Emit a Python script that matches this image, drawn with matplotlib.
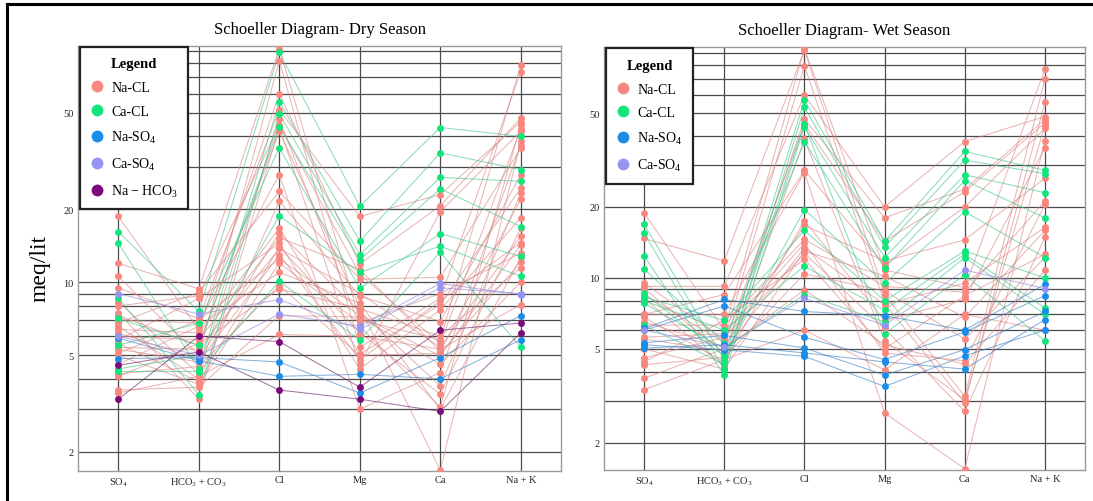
import numpy as np
import matplotlib
matplotlib.use('Agg')
from matplotlib import pyplot as plt
from matplotlib.lines import Line2D

plt.rcParams['font.family'] = ['Liberation Serif', 'DejaVu Serif']
plt.rcParams['mathtext.fontset'] = 'custom'
plt.rcParams['mathtext.rm'] = 'Liberation Serif'
plt.rcParams['mathtext.it'] = 'Liberation Serif:italic'
plt.rcParams['mathtext.bf'] = 'Liberation Serif:bold'

ions = ['SO$_4$', 'HCO$_3$ + CO$_3$', 'Cl', 'Mg', 'Ca', 'Na + K']
y_ticks = [2, 5, 10, 20, 50]
grid_levels = [2, 3, 4, 5, 6, 7, 8, 9, 10, 20, 30, 40, 50, 60, 70, 80, 90]

# each row is one sample: SO4, HCO3+CO3, Cl, Mg, Ca, Na+K (meq/lit)
dry_na_cl = [
    [18.7, 6.4, 60, 11.9, 20.7, 47.6],
    [12.0, 9.4, 92, 7.0, 5.8, 78.9],
    [10.6, 5.0, 82, 5.4, 8.6, 74],
    [9.5, 7.1, 51.5, 18.7, 23, 46],
    [8.3, 4.2, 47, 6.6, 3.06, 44.5],
    [8.0, 8.8, 44.7, 10.8, 5.6, 43],
    [7.5, 3.3, 43.5, 4.6, 19.6, 42],
    [7.3, 5.5, 42, 7.9, 1.68, 38.1],
    [7.0, 6.8, 27.8, 3.0, 4.25, 37],
    [6.8, 9.1, 23.7, 10.3, 10.5, 35.8],
    [6.6, 4.0, 21.6, 8.8, 6.9, 27.8],
    [6.4, 6.2, 16.7, 5.06, 8.1, 24.5],
    [6.2, 4.8, 16, 7.6, 3.74, 23.4],
    [6.0, 5.8, 15.3, 11.3, 5.2, 22],
    [5.8, 8.6, 14.5, 4.4, 7.7, 18.5],
    [5.6, 3.9, 14.0, 6.2, 3.46, 16.8],
    [5.4, 5.3, 13.8, 9.0, 5.4, 15.5],
    [5.3, 4.7, 13.0, 4.8, 8.4, 14.6],
    [5.1, 7.0, 12.5, 7.3, 4.98, 14.3],
    [5.0, 3.8, 12.0, 6.8, 9.0, 13.2],
    [4.6, 6.6, 11.0, 8.2, 3.0, 12.7],
    [4.2, 4.5, 9.7, 5.0, 5.1, 12.1],
    [4.1, 5.6, 9.4, 7.8, 6.0, 11.5],
    [3.6, 3.7, 7.3, 7.2, 4.6, 10],
    [3.5, 4.1, 6.1, 6.0, 5.3, 8.1],
]
dry_ca_cl = [
    [16.2, 7.6, 89, 20.6, 43.5, 40],
    [14.5, 4.4, 55.6, 14.8, 34.2, 29.2],
    [8.6, 3.45, 49.6, 13.0, 27.1, 26.1],
    [7.1, 5.5, 43.9, 12.4, 24.3, 17],
    [5.5, 6.8, 35.9, 9.45, 15.9, 12.8],
    [4.4, 5.0, 18.8, 11.0, 14.1, 10.6],
    [4.3, 4.29, 10.1, 5.8, 13.3, 5.4],
]
dry_na_so4 = [
    [4.85, 4.9, 4.7, 3.5, 4.9, 7.3],
    [5.9, 4.75, 4.1, 4.18, 4.0, 5.8],
]
dry_ca_so4 = [
    [9.0, 7.4, 8.5, 6.4, 9.5, 9.0],
    [6.0, 5.0, 7.4, 6.6, 9.9, 8.9],
]
dry_na_hco3 = [
    [3.3, 6.0, 5.7, 3.7, 6.35, 6.8],
    [4.55, 5.17, 3.6, 3.3, 2.94, 6.2],
]

wet_na_cl = [
    [18.9, 6.0, 94, 10.8, 9.1, 77],
    [14.7, 11.8, 92.6, 8.5, 3.14, 69.8],
    [9.5, 5.46, 79.6, 7.8, 2.94, 55.6],
    [9.2, 9.2, 59.8, 20, 37.9, 48.4],
    [9.0, 4.8, 47.2, 18, 23.8, 47],
    [8.5, 5.3, 45, 14.3, 23.2, 45.5],
    [8.2, 4.2, 38.8, 5.4, 3.04, 44.5],
    [7.0, 8.5, 28.6, 11.3, 20, 43.1],
    [7.0, 7.0, 28, 2.67, 1.55, 38.2],
    [6.8, 4.4, 17.5, 6.6, 8.1, 35.7],
    [6.5, 5.1, 16.7, 11.8, 14.5, 26.5],
    [6.3, 6.3, 14.6, 9.2, 8.7, 21.2],
    [5.6, 5.8, 14.0, 4.8, 4.45, 20.5],
    [5.5, 4.9, 13.4, 7.7, 9.5, 16.4],
    [5.0, 4.1, 13.0, 10.2, 6.8, 15.9],
    [4.57, 5.6, 12.7, 6.1, 2.71, 14.9],
    [4.4, 6.6, 12, 5.0, 8.4, 12.6],
    [4.28, 4.6, 10.4, 8.8, 5.5, 12.2],
    [3.75, 5.0, 8.9, 5.2, 4.3, 10.8],
    [3.35, 4.5, 6.0, 4.07, 7.0, 6.0],
]
wet_ca_cl = [
    [16.9, 4.5, 56.9, 14.3, 34.4, 28.6],
    [15.5, 4.07, 52.9, 13.5, 31.6, 27.7],
    [12.4, 3.87, 43.8, 12.2, 27.4, 23],
    [10.9, 5.3, 37.9, 11.0, 25.9, 18],
    [8.6, 4.65, 19.5, 9.5, 19.1, 12.2],
    [8.3, 6.6, 15.9, 8.0, 13.0, 10],
    [8.0, 6.0, 11.2, 7.3, 12.6, 7.45],
    [7.8, 5.0, 8.5, 6.5, 12.2, 7.0],
    [6.3, 4.3, 45.0, 5.8, 10.3, 5.4],
]
wet_na_so4 = [
    [6.1, 8.1, 7.2, 6.9, 6.0, 9.4],
    [6.0, 7.6, 5.6, 4.5, 5.9, 8.4],
    [5.3, 5.7, 5.04, 3.87, 4.96, 7.2],
    [5.04, 5.2, 4.8, 4.4, 4.1, 6.65],
    [5.2, 4.95, 4.65, 3.46, 4.67, 6.0],
]
wet_ca_so4 = [
    [6.0, 5.1, 8.2, 6.3, 10.8, 9.0],
]

type_names = ['Na-CL', 'Ca-CL', 'Na-SO$_4$', 'Ca-SO$_4$', 'Na $-$ HCO$_3$']
point_colors = ['#f7877f', '#12e57c', '#1b8ce8', '#9494f2', '#7d0a7d']
line_colors = ['#d98682', '#3fc58c', '#3a7fc4', '#8c88dc', '#6b1d6b']


def draw_panel(ax, groups, title, ylim, n_legend, legend_top):
    x = np.arange(len(ions))
    for level in grid_levels:
        ax.axhline(level, color='#4a4a4a', lw=0.9, zorder=1)
    for xi in x:
        ax.axvline(xi, color='#4a4a4a', lw=0.9, zorder=1)

    for i, samples in enumerate(groups):
        for s in samples:
            ax.plot(x, s, color=line_colors[i], lw=0.75, alpha=0.6, zorder=2)
    for i, samples in enumerate(groups):
        for s in samples:
            ax.plot(x, s, ls='', marker='o', ms=5.0, mec='none',
                    color=point_colors[i], zorder=3)

    ax.set_yscale('log')
    ax.set_ylim(ylim)
    ax.set_xlim(-0.5, len(ions) - 0.5)
    ax.set_yticks(y_ticks)
    ax.set_yticklabels([str(t) for t in y_ticks])
    ax.yaxis.set_minor_locator(matplotlib.ticker.NullLocator())
    ax.set_xticks(x)
    ax.set_xticklabels(ions)
    ax.tick_params(length=0, labelsize=7.5, pad=3, colors='#222222')
    for spine in ax.spines.values():
        spine.set_color('#9a9a9a')
        spine.set_linewidth(1.0)
    ax.set_title(title, fontsize=12, pad=9)

    handles = [Line2D([], [], ls='', marker='o', ms=8.5, mec='none', color=point_colors[i])
               for i in range(n_legend)]
    leg = ax.legend(handles, type_names[:n_legend], title='Legend', loc='upper left',
                    bbox_to_anchor=(0.004, legend_top), borderaxespad=0, fontsize=10,
                    title_fontproperties={'weight': 'bold', 'size': 10.5},
                    labelspacing=0.78, handlelength=0.9, handletextpad=0.6,
                    borderpad=0.75, fancybox=False, framealpha=1)
    leg.get_frame().set_edgecolor('#222222')
    leg.get_frame().set_linewidth(1.6)
    leg.set_zorder(5)


def main():
    fig = plt.figure(figsize=(10.93, 5.02), dpi=100)
    ax_dry = fig.add_axes([0.0714, 0.0598, 0.4419, 0.8466])
    ax_wet = fig.add_axes([0.5526, 0.0618, 0.4401, 0.8426])

    draw_panel(ax_dry, [dry_na_cl, dry_ca_cl, dry_na_so4, dry_ca_so4, dry_na_hco3],
               'Schoeller Diagram- Dry Season', (1.67, 94.3), 5, 0.998)
    draw_panel(ax_wet, [wet_na_cl, wet_ca_cl, wet_na_so4, wet_ca_so4],
               'Schoeller Diagram- Wet Season', (1.53, 95.5), 4, 0.997)

    fig.text(40 / 1093, 1 - 268 / 502, 'meq/lit', rotation=90, fontsize=17,
             ha='center', va='center')

    # frame lines along the top and left edge
    fig.add_artist(Line2D([7 / 1093, 7 / 1093], [0, 1 - 5 / 502], color='black', lw=2.2))
    fig.add_artist(Line2D([7 / 1093, 1], [1 - 5 / 502, 1 - 5 / 502], color='black', lw=2.2))

    fig.savefig('out.png', dpi=100)


if __name__ == "__main__":
    main()
